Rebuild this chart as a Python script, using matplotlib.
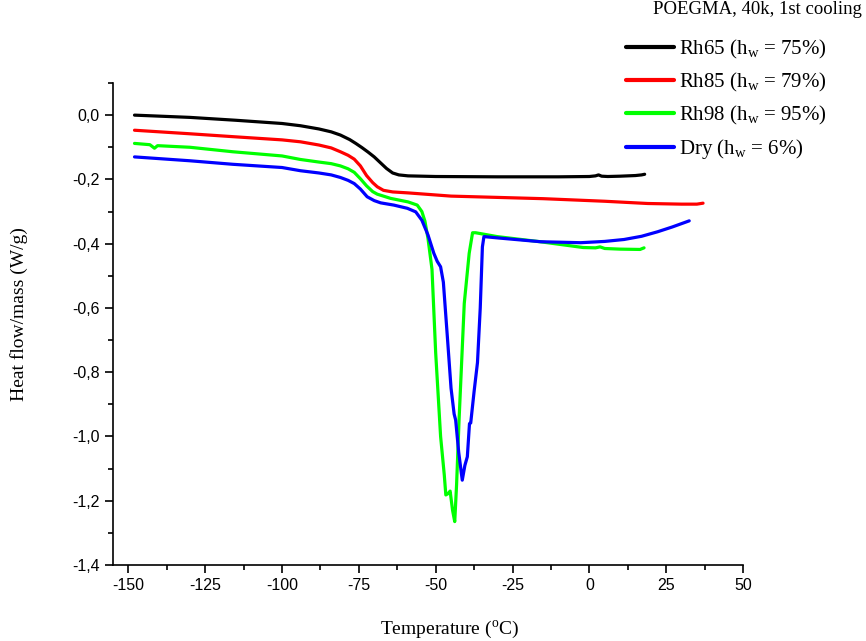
import matplotlib
matplotlib.use("Agg")
import matplotlib.pyplot as plt
from matplotlib.ticker import MultipleLocator, FuncFormatter

# temperature (C) / heat flow per mass (W/g)
rh65_t = [-148, -130, -115, -100, -94, -88, -84, -81, -78, -76, -74, -72, -70, -68, -66, -64,
          -62, -59, -50, -30, -10, 0, 2, 3, 4, 6, 10, 15, 17, 18]
rh65_y = [0.0, -0.007, -0.016, -0.026, -0.033, -0.043, -0.052, -0.062, -0.076, -0.088, -0.101,
          -0.115, -0.13, -0.148, -0.166, -0.18, -0.186, -0.189, -0.191, -0.192, -0.192, -0.191,
          -0.189, -0.186, -0.19, -0.191, -0.19, -0.188, -0.186, -0.184]

rh85_t = [-148, -130, -116, -100, -94, -88, -84, -81, -78.5, -76.5, -74.5, -72.5, -70.5, -69, -67,
          -64, -59, -45, -30, -15, -5, 5, 19, 30, 35, 37]
rh85_y = [-0.047, -0.058, -0.067, -0.077, -0.083, -0.093, -0.102, -0.114, -0.125, -0.137, -0.158,
          -0.188, -0.21, -0.223, -0.234, -0.239, -0.242, -0.252, -0.256, -0.26, -0.264, -0.268,
          -0.275, -0.277, -0.277, -0.274]

rh98_t = [-148, -143, -141.5, -140.5, -130, -116, -100, -94, -88, -84, -81, -78.5, -76.5, -74.5,
          -72.5, -70.5, -69, -64.7, -59, -56, -54.5, -53.5, -52.5, -51.2, -50, -48.4, -47.2, -46.7,
          -46, -45.3, -44.5, -43.8, -43.2, -42.4, -40.7, -39.1, -38, -37, -30, -16, -2, 2, 3.5, 5,
          10, 16.5, 17.8]
rh98_y = [-0.088, -0.092, -0.103, -0.095, -0.1, -0.114, -0.127, -0.138, -0.146, -0.151, -0.158,
          -0.167, -0.178, -0.198, -0.22, -0.238, -0.246, -0.259, -0.27, -0.28, -0.3, -0.33, -0.384,
          -0.48, -0.74, -1.0, -1.12, -1.182, -1.178, -1.17, -1.23, -1.265, -1.15, -0.95, -0.586,
          -0.43, -0.366, -0.366, -0.378, -0.394, -0.412, -0.413, -0.41, -0.415, -0.417, -0.418,
          -0.413]

dry_t = [-148, -130, -116, -100, -94, -88, -84, -81, -78.5, -76.5, -74.5, -72.3, -70, -67.9, -63.6,
         -59.2, -56.5, -54.5, -52.5, -50.6, -49.5, -48.4, -47.5, -46.2, -45, -44, -43.5, -42.5,
         -41.35, -40.5, -39.7, -39, -38.6, -37.5, -36.4, -35.5, -34.8, -34.3, -28.8, -15.8, -2.8,
         5, 11.3, 17, 22.2, 27, 32.5]
dry_y = [-0.13, -0.142, -0.153, -0.163, -0.173, -0.18, -0.186, -0.194, -0.203, -0.213, -0.23,
         -0.254, -0.266, -0.273, -0.28, -0.29, -0.301, -0.327, -0.373, -0.43, -0.455, -0.472, -0.52,
         -0.69, -0.85, -0.93, -0.949, -1.05, -1.136, -1.09, -1.063, -0.96, -0.958, -0.86, -0.77,
         -0.6, -0.41, -0.378, -0.383, -0.394, -0.397, -0.393, -0.387, -0.377, -0.363, -0.348,
         -0.329]

labels = [r"Rh65 (h$_\mathregular{w}$ = 75%)", r"Rh85 (h$_\mathregular{w}$ = 79%)",
          r"Rh98 (h$_\mathregular{w}$ = 95%)", r"Dry (h$_\mathregular{w}$ = 6%)"]
colors = ["#000000", "#ff0000", "#00ff00", "#0000ff"]

plt.rcParams["mathtext.fontset"] = "custom"
plt.rcParams["mathtext.rm"] = "Liberation Serif"
plt.rcParams["axes.unicode_minus"] = False
serif = "Liberation Serif"
sans = "Liberation Sans"

fig = plt.figure(figsize=(8.66, 6.41), dpi=100)
ax = fig.add_axes([113 / 866, 1 - 565 / 641, 630 / 866, 482 / 641])

series = [(rh65_t, rh65_y), (rh85_t, rh85_y), (rh98_t, rh98_y), (dry_t, dry_y)]
for (t, y), c, lab in zip(series, colors, labels):
    ax.plot(t, y, color=c, lw=2.3, label=lab, solid_capstyle="round")

ax.set_xlim(-155, 50)
ax.set_ylim(-1.4, 0.1)
ax.spines["top"].set_visible(False)
ax.spines["right"].set_visible(False)
for s in ("left", "bottom"):
    ax.spines[s].set_linewidth(1.2)

ax.xaxis.set_major_locator(MultipleLocator(25))
ax.xaxis.set_minor_locator(MultipleLocator(12.5))
ax.yaxis.set_major_locator(MultipleLocator(0.2))
ax.yaxis.set_minor_locator(MultipleLocator(0.1))
ax.yaxis.set_major_formatter(FuncFormatter(lambda v, p: f"{v:.1f}".replace(".", ",").replace("-0,0", "0,0")))
ax.tick_params(which="major", direction="out", length=6, width=1.2, labelsize=11.5)
ax.tick_params(which="minor", direction="out", length=3.5, width=1.2)
for lbl in ax.get_xticklabels() + ax.get_yticklabels():
    lbl.set_fontfamily(sans)

ax.set_xlabel(r"Temperature ($^\mathregular{o}$C)", fontsize=14, family=serif)
ax.set_ylabel("Heat flow/mass (W/g)", fontsize=14, family=serif)
ax.xaxis.set_label_coords(0.535, -0.11)
ax.yaxis.set_label_coords(-0.135, 0.52)

fig.text(862 / 866, 1 - 10 / 641, "POEGMA, 40k, 1st cooling", ha="right", va="center",
         fontsize=13.5, family=serif)
leg = ax.legend(loc="upper left", bbox_to_anchor=(626 / 866, 1 - 38 / 641),
                bbox_transform=fig.transFigure, frameon=False, borderpad=0, borderaxespad=0,
                handlelength=2.3, handletextpad=0.25, labelspacing=0.48,
                prop={"family": serif, "size": 15})
for h in leg.get_lines():
    h.set_linewidth(3)

fig.savefig("out.png", dpi=100)
